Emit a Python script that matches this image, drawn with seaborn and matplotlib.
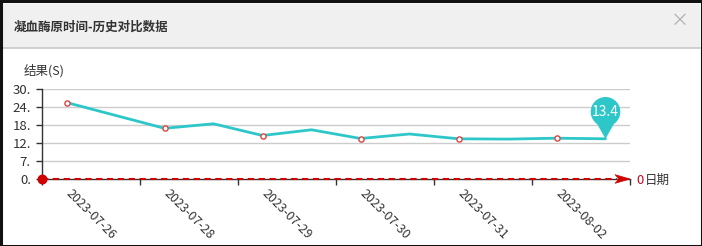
import matplotlib
matplotlib.use("Agg")
import matplotlib.pyplot as plt
import seaborn as sns
import pandas as pd
from matplotlib.patches import Rectangle, Circle, Polygon
from matplotlib.transforms import ScaledTranslation
from matplotlib.lines import Line2D

# ---- data ----
dates = ["2023-07-26", "2023-07-28", "2023-07-29", "2023-07-30", "2023-07-31", "2023-08-02"]
values = [25.5, 21.2, 16.9, 18.4, 14.5, 16.4, 13.5, 15.0, 13.4, 13.3, 13.6, 13.4]
ytick_vals = [0, 6, 12, 18, 24, 30]
ytick_labels = ["0.", "7.", "12.", "18.", "24.", "30."]
last_label = "13.4"

sns.set_theme(style="white")
plt.rcParams['font.family'] = ['Noto Sans CJK SC', 'DejaVu Sans']

W, H = 702, 246
fig = plt.figure(figsize=(W / 100, H / 100), dpi=100, facecolor="white")

def px(x, y):
    return x / W, 1 - y / H

# frame and title bar
x0, y0 = px(2, 48)
fig.patches.append(Rectangle((x0, y0), 1 - 4 / W, 44 / H, transform=fig.transFigure,
                             facecolor="#f0f0f0", edgecolor="none", zorder=1))
fig.lines.append(Line2D([2 / W, 1 - 2 / W], [1 - 48 / H] * 2, transform=fig.transFigure,
                        color="#c8c8c8", lw=1.2, zorder=2))
fig.patches.append(Rectangle((0.5 / W, 0.5 / H), 1 - 1 / W, 1 - 1 / H, transform=fig.transFigure,
                             facecolor="none", edgecolor="#111111", lw=2.2, zorder=5))
fig.text(*px(14, 27), "凝血酶原时间-历史对比数据", fontsize=9, fontweight="bold",
         color="#333333", va="center", ha="left")
fig.text(*px(680, 21), "×", fontsize=13, color="#b0b0b0", va="center", ha="center")

# main axes
ax = fig.add_axes([42 / W, (H - 179) / H, 588 / W, 90 / H])
ax.set_zorder(3)
ax.patch.set_alpha(0)
df = pd.DataFrame({"idx": range(len(values)), "value": values})
sns.lineplot(data=df, x="idx", y="value", ax=ax, color="#2ec7c9", linewidth=2, zorder=3)
marked = df.iloc[::2]
sns.scatterplot(data=marked, x="idx", y="value", ax=ax, marker="o", s=14,
                facecolor="white", edgecolor="#d9443f", linewidth=1, zorder=4)

n = len(values)
ax.set_xlim(-0.5, n - 0.5)
ax.set_ylim(0, 30)
ax.set_xlabel("")
ax.set_ylabel("")

for v in ytick_vals[1:]:
    ax.axhline(v, color="#cccccc", lw=1, zorder=1)

ax.set_yticks(ytick_vals)
ax.set_yticklabels(ytick_labels)
ax.tick_params(axis="y", length=4, width=1, color="#333333", pad=4, labelsize=9.5,
               labelcolor="#333333", left=True)

per = n // len(dates)
centers = [i * per + (per - 1) / 2 for i in range(len(dates))]
bounds = [i * per - 0.5 for i in range(len(dates) + 1)]
ax.set_xticks(centers)
ax.set_xticklabels(dates, rotation=-45, ha="center", va="top")
ax.set_xticks(bounds, minor=True)
ax.tick_params(axis="x", which="major", length=0, pad=6, labelsize=9, labelcolor="#333333")
ax.tick_params(axis="x", which="minor", length=4, width=1, color="#333333", bottom=True)

for s in ["top", "right"]:
    ax.spines[s].set_visible(False)
for s in ["left", "bottom"]:
    ax.spines[s].set_color("#333333")
    ax.spines[s].set_linewidth(1)

# red dashed axis arrow
ax.plot([0, 0.978], [0, 0], transform=ax.transAxes, color="#d00000", lw=1.5,
        ls=(0, (3, 2.2)), clip_on=False, zorder=5)
ax.add_patch(Polygon([(1.0, 0), (0.9745, 0.048), (0.9815, 0), (0.9745, -0.048)],
                     closed=True, transform=ax.transAxes, facecolor="#d00000",
                     edgecolor="#d00000", lw=0.5, clip_on=False, zorder=6))
ax.scatter([0], [0], transform=ax.transAxes, s=38, color="#d00000", clip_on=False, zorder=7)

fig.text(*px(636, 180), "0", fontsize=9.5, color="#d0021b", va="center", ha="left")
fig.text(*px(645, 180), "日期", fontsize=9, color="#333333", va="center", ha="left")
fig.text(*px(24, 71), "结果(S)", fontsize=9, color="#333333", va="center", ha="left")

# pin label at last point
trans = fig.dpi_scale_trans + ScaledTranslation(df["idx"].iloc[-1], df["value"].iloc[-1], ax.transData)
ax.add_patch(Polygon([(0, 0), (-0.09, 0.16), (0.09, 0.16)], closed=True, transform=trans,
                     facecolor="#2ec7c9", edgecolor="none", clip_on=False, zorder=8))
ax.add_patch(Circle((0, 0.27), 0.148, transform=trans, facecolor="#2ec7c9",
                    edgecolor="none", clip_on=False, zorder=8))
ax.text(0, 0.27, last_label, transform=trans, fontsize=10, color="white",
        ha="center", va="center", zorder=9)

fig.savefig("out.png", dpi=100)
